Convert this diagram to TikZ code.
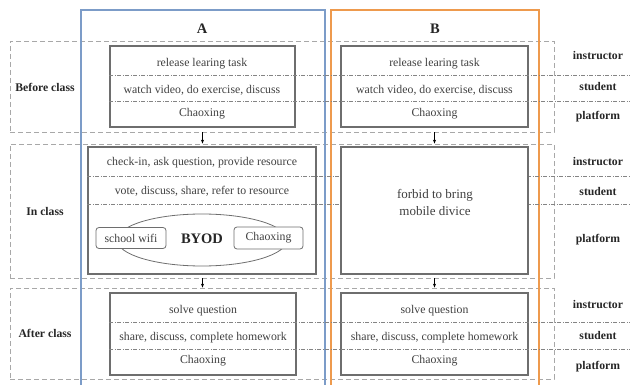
\documentclass[tikz,border=0pt]{standalone}
\usepackage{fontspec}
\setmainfont{Liberation Serif}
\usetikzlibrary{arrows.meta,shapes.geometric}
\definecolor{boxblue}{HTML}{7C9CC8}
\definecolor{boxorange}{HTML}{EE9A4D}
\definecolor{txt}{HTML}{404040}
\definecolor{frame}{HTML}{6E6E6E}
\definecolor{phase}{HTML}{A8A8A8}
\begin{document}
\begin{tikzpicture}[x=1pt,y=-1pt,
  phasebox/.style={draw=phase,dash pattern=on 5pt off 3pt,line width=0.8pt,rectangle,inner sep=0pt},
  colbox/.style={line width=1.1pt,rectangle,inner sep=0pt},
  innerbox/.style={draw=frame,line width=1.1pt,rectangle,inner sep=0pt},
  sep/.style={draw=frame!85,dash pattern=on 4pt off 1.5pt on 1pt off 1.5pt,line width=0.6pt},
  lbl/.style={font=\fontsize{11.7}{13}\selectfont\bfseries,text=black!85},
  item/.style={font=\fontsize{11.8}{13}\selectfont,text=txt},
  title/.style={font=\fontsize{14.5}{16}\selectfont\bfseries,text=black!85},
  small/.style={draw=frame,line width=0.8pt,rounded corners=3pt,fill=white,rectangle,inner sep=0pt},
  arr/.style={-{Stealth[length=4pt,width=3pt]},line width=0.5pt,black}
]
\useasboundingbox (0,0) rectangle (630,385);
\clip (0,0) rectangle (630,385);
% phase boxes
\node[phasebox,minimum width=544pt,minimum height=91pt] (bP) at (282,86.5) {};
\node[phasebox,minimum width=544pt,minimum height=134pt] (iP) at (282,211) {};
\node[phasebox,minimum width=544pt,minimum height=91pt] (aP) at (282,333.5) {};
% column boxes
\node[colbox,draw=boxblue,minimum width=244pt,minimum height=380pt] (colA) at (203,200) {};
\node[colbox,draw=boxorange,minimum width=208pt,minimum height=380pt] (colB) at (435,200) {};
\node[title] (tA) at (202,29) {A};
\node[title] (tB) at (435,29) {B};
% inner boxes
\node[innerbox,minimum width=185pt,minimum height=81pt] (bA) at (202.5,86.5) {};
\node[innerbox,minimum width=187pt,minimum height=81pt] (bB) at (434.5,86.5) {};
\node[innerbox,minimum width=228pt,minimum height=127pt] (iA) at (202,210.5) {};
\node[innerbox,minimum width=186pt,minimum height=82pt] (aA) at (203,334) {};
\node[innerbox,minimum width=187pt,minimum height=82pt] (aB) at (434.5,334) {};
% separators
\coordinate (e1) at (630,75);
\coordinate (e2) at (630,101);
\coordinate (e3) at (630,176);
\coordinate (e4) at (630,204);
\coordinate (e5) at (630,322);
\coordinate (e6) at (630,349);
\draw[sep] (bA.west |- e1) -- (e1);
\draw[sep] (bA.west |- e2) -- (e2);
\draw[sep] (iA.west |- e3) -- (e3);
\draw[sep] (iA.west |- e4) -- (e4);
\draw[sep] (aA.west |- e5) -- (e5);
\draw[sep] (aA.west |- e6) -- (e6);
% in class B (covers separators)
\node[innerbox,fill=white,minimum width=187pt,minimum height=127pt] (iB) at (434.5,210.5) {};
\node[font=\fontsize{13}{17}\selectfont,text=txt,align=center] (fb) at (435,202) {forbid to bring\\mobile divice};
% arrows
\draw[arr] (bP.south -| bA) -- (iP.north -| bA);
\draw[arr] (bP.south -| bB) -- (iP.north -| bB);
\draw[arr] (iP.south -| bA) -- (aP.north -| bA);
\draw[arr] (iP.south -| bB) -- (aP.north -| bB);
% left labels
\node[lbl] (lb) at (45,87) {Before class};
\node[lbl] (li) at (45,211) {In class};
\node[lbl] (la) at (45,333) {After class};
% right labels
\foreach \y/\t [count=\i] in {56/instructor,87/student,117/platform,162/instructor,192/student,240/platform,305/instructor,336/student,367/platform}
  \node[lbl] (r\i) at (598,\y) {\t};
% before texts
\node[item] (b1) at (202,64) {release learing task};
\node[item] (b2) at (202,90) {watch video, do exercise, discuss};
\node[item] (b3) at (202,114) {Chaoxing};
\node[item] (b4) at (434.5,64) {release learing task};
\node[item] (b5) at (434.5,90) {watch video, do exercise, discuss};
\node[item] (b6) at (434.5,114) {Chaoxing};
% in class A texts
\node[item] (i1) at (202,163) {check-in, ask question, provide resource};
\node[item] (i2) at (202,191) {vote, discuss, share, refer to resource};
\node[ellipse,draw=frame,line width=0.8pt,minimum width=170pt,minimum height=52pt] (ell) at (202,240) {};
\node[small,minimum width=70pt,minimum height=21pt,item] (wifi) at (131,238) {school wifi};
\node[small,minimum width=69pt,minimum height=22pt,item] (cx) at (268.5,238) {Chaoxing};
\node[title] (byod) at (202,239) {BYOD};
% after texts
\node[item] (a1) at (203,311) {solve question};
\node[item] (a2) at (203,338) {share, discuss, complete homework};
\node[item] (a3) at (203,361) {Chaoxing};
\node[item] (a4) at (434.5,311) {solve question};
\node[item] (a5) at (434.5,338) {share, discuss, complete homework};
\node[item] (a6) at (434.5,361) {Chaoxing};
\end{tikzpicture}
\end{document}
